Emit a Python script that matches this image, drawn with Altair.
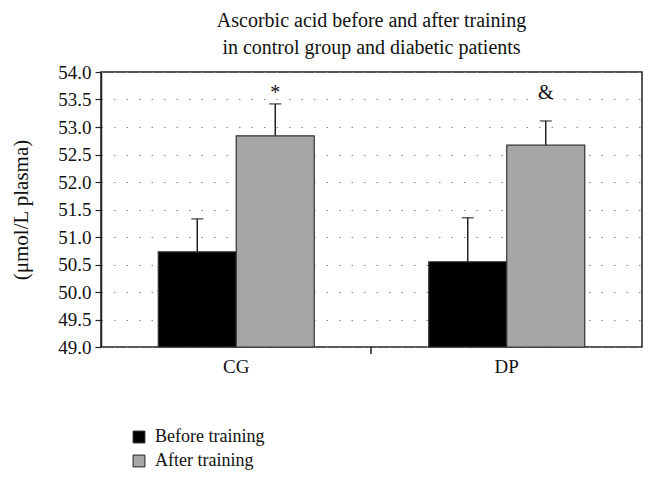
import altair as alt
import pandas as pd

groups = ["CG", "DP"]
series = ["Before training", "After training"]
before_mean = [50.73, 50.55]
before_upper = [51.33, 51.35]
after_mean = [52.84, 52.67]
after_upper = [53.42, 53.11]
signif = ["*", "&"]
signif_y = [53.62, 53.62]

rows = []
for i, g in enumerate(groups):
    rows.append({"group": g, "series": series[0], "value": before_mean[i], "upper": before_upper[i],
                 "mark": "", "mark_y": signif_y[i]})
    rows.append({"group": g, "series": series[1], "value": after_mean[i], "upper": after_upper[i],
                 "mark": signif[i], "mark_y": signif_y[i]})
df = pd.DataFrame(rows)

FONT = "Liberation Serif"

x = alt.X("group:N", sort=groups, title=None,
          scale=alt.Scale(paddingInner=0, paddingOuter=0),
          axis=alt.Axis(labelAngle=0, labelFont=FONT, labelFontSize=19, labelColor="#111",
                        domain=False, ticks=False, labelPadding=10))
xoff = alt.XOffset("series:N", sort=series, scale=alt.Scale(paddingInner=0, paddingOuter=0.734))
yscale = alt.Scale(domain=[49, 54], zero=False, nice=False)
yaxis = alt.Axis(values=[49 + 0.5 * k for k in range(11)], format=".1f", labelOverlap=False,
                 labelFont=FONT, labelFontSize=19, labelColor="#111",
                 titleFont=FONT, titleFontSize=21, titleFontWeight="normal", titleColor="#111",
                 titlePadding=26, domainColor="#222", domainWidth=1.5,
                 tickColor="#222", tickWidth=1.2, tickSize=6, labelPadding=4,
                 grid=True, gridColor="#888", gridDash=[1.5, 11], gridWidth=1.2)
YTITLE = "(μmol/L plasma)"


def yenc(field):
    return alt.Y(field, scale=yscale, title=YTITLE, axis=yaxis)


base = alt.Chart(df)

bars = base.mark_bar(stroke="#333", strokeWidth=1.2).encode(
    x=x, xOffset=xoff, y=yenc("value:Q"), y2=alt.datum(49),
    color=alt.Color("series:N", sort=series,
                    scale=alt.Scale(domain=series, range=["#000000", "#a6a6a6"]),
                    legend=alt.Legend(title=None, orient="none", legendX=29, legendY=356,
                                      symbolType="square", symbolSize=140,
                                      symbolStrokeColor="#222", symbolStrokeWidth=1,
                                      labelFont=FONT, labelFontSize=18, labelColor="#111",
                                      labelOffset=7, rowPadding=6)),
)

err = base.mark_rule(color="#222", strokeWidth=1.5).encode(
    x=x, xOffset=xoff, y=yenc("value:Q"), y2="upper:Q",
)
caps = base.mark_tick(color="#222", thickness=1.5, size=12).encode(
    x=x, xOffset=xoff, y=yenc("upper:Q"),
)
labels = base.mark_text(font=FONT, fontSize=20, color="#111").encode(
    x=x, xOffset=xoff, y=yenc("mark_y:Q"), text="mark:N",
)

# x axis middle tick between groups
mid = alt.Chart(pd.DataFrame({"v": [0]})).mark_rule(color="#222", strokeWidth=1.5).encode(
    x=alt.value(270), y=alt.value(275), y2=alt.value(282)
)

chart = alt.layer(bars, err, caps, labels, mid).properties(
    width=541, height=275,
    title=alt.Title(["Ascorbic acid before and after training", "in control group and diabetic patients"],
                    font=FONT, fontSize=20, fontWeight="normal", color="#111",
                    lineHeight=27, offset=5, anchor="middle"),
    autosize=alt.AutoSizeParams(type="none"),
    padding={"left": 93, "top": 64, "right": 7, "bottom": 131},
).configure_view(stroke="#222", strokeWidth=1.5)

chart.save("out.html", embed_options={"renderer": "svg", "actions": False})
